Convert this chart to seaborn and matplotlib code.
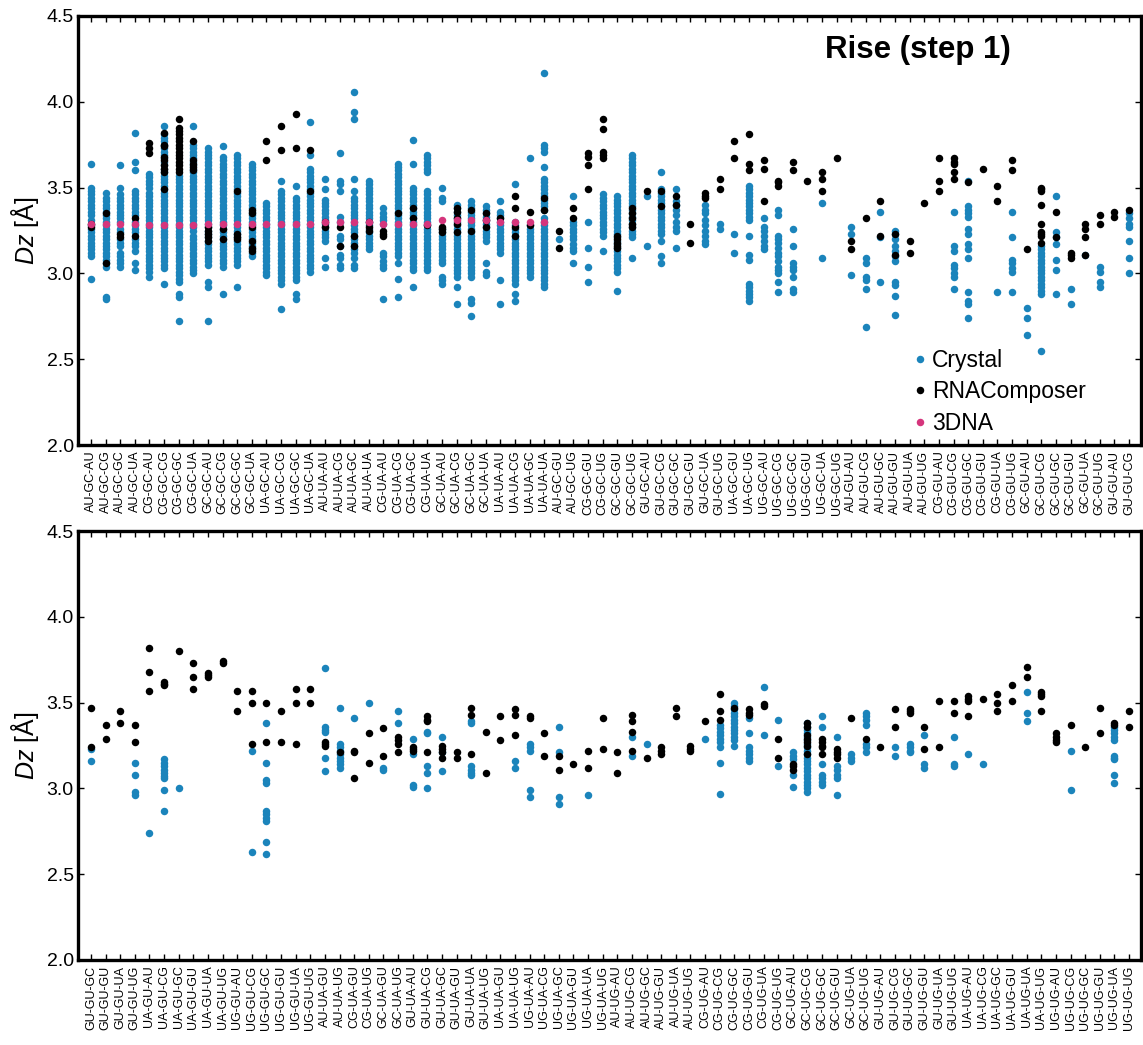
import numpy as np
import pandas as pd
import matplotlib
matplotlib.use("Agg")
import matplotlib.pyplot as plt
import seaborn as sns
from matplotlib.lines import Line2D

# ---------------- categories (tick labels) ----------------
top_categories = [
    "AU-GC-AU", "AU-GC-CG", "AU-GC-GC", "AU-GC-UA",
    "CG-GC-AU", "CG-GC-CG", "CG-GC-GC", "CG-GC-UA",
    "GC-GC-AU", "GC-GC-CG", "GC-GC-GC", "GC-GC-UA",
    "UA-GC-AU", "UA-GC-CG", "UA-GC-GC", "UA-GC-UA",
    "AU-UA-AU", "AU-UA-CG", "AU-UA-GC", "AU-UA-UA",
    "CG-UA-AU", "CG-UA-CG", "CG-UA-GC", "CG-UA-UA",
    "GC-UA-AU", "GC-UA-CG", "GC-UA-GC", "GC-UA-UA",
    "UA-UA-AU", "UA-UA-CG", "UA-UA-GC", "UA-UA-UA",
    "AU-GC-GU", "AU-GC-UG", "CG-GC-GU", "CG-GC-UG", "GC-GC-GU", "GC-GC-UG",
    "GU-GC-AU", "GU-GC-CG", "GU-GC-GC", "GU-GC-GU", "GU-GC-UA", "GU-GC-UG",
    "UA-GC-GU", "UA-GC-UG",
    "UG-GC-AU", "UG-GC-CG", "UG-GC-GC", "UG-GC-GU", "UG-GC-UA", "UG-GC-UG",
    "AU-GU-AU", "AU-GU-CG", "AU-GU-GC", "AU-GU-GU", "AU-GU-UA", "AU-GU-UG",
    "CG-GU-AU", "CG-GU-CG", "CG-GU-GC", "CG-GU-GU", "CG-GU-UA", "CG-GU-UG",
    "GC-GU-AU", "GC-GU-CG", "GC-GU-GC", "GC-GU-GU", "GC-GU-UA", "GC-GU-UG",
    "GU-GU-AU", "GU-GU-CG",
]

bottom_categories = [
    "GU-GU-GC", "GU-GU-GU", "GU-GU-UA", "GU-GU-UG",
    "UA-GU-AU", "UA-GU-CG", "UA-GU-GC", "UA-GU-GU", "UA-GU-UA", "UA-GU-UG",
    "UG-GU-AU", "UG-GU-CG", "UG-GU-GC", "UG-GU-GU", "UG-GU-UA", "UG-GU-UG",
    "AU-UA-GU", "AU-UA-UG", "CG-UA-GU", "CG-UA-UG", "GC-UA-GU", "GC-UA-UG",
    "GU-UA-AU", "GU-UA-CG", "GU-UA-GC", "GU-UA-GU", "GU-UA-UA", "GU-UA-UG",
    "UA-UA-GU", "UA-UA-UG",
    "UG-UA-AU", "UG-UA-CG", "UG-UA-GC", "UG-UA-GU", "UG-UA-UA", "UG-UA-UG",
    "AU-UG-AU", "AU-UG-CG", "AU-UG-GC", "AU-UG-GU", "AU-UG-UA", "AU-UG-UG",
    "CG-UG-AU", "CG-UG-CG", "CG-UG-GC", "CG-UG-GU", "CG-UG-UA", "CG-UG-UG",
    "GC-UG-AU", "GC-UG-CG", "GC-UG-GC", "GC-UG-GU", "GC-UG-UA", "GC-UG-UG",
    "GU-UG-AU", "GU-UG-CG", "GU-UG-GC", "GU-UG-GU", "GU-UG-UA", "GU-UG-UG",
    "UA-UG-AU", "UA-UG-CG", "UA-UG-GC", "UA-UG-GU", "UA-UG-UA", "UA-UG-UG",
    "UG-UG-AU", "UG-UG-CG", "UG-UG-GC", "UG-UG-GU", "UG-UG-UA", "UG-UG-UG",
]

# ---------------- top panel values (Dz, Angstrom) ----------------
top_crystal = [
    [3.64, 3.50, 3.48, 3.46, 3.44, 3.42, 3.40, 3.38, 3.36, 3.34, 3.31, 3.28, 3.26, 3.24, 3.22, 3.20, 3.18, 3.16, 3.14, 3.12, 3.10, 2.97],
    [3.47, 3.44, 3.42, 3.40, 3.38, 3.36, 3.34, 3.32, 3.30, 3.28, 3.26, 3.24, 3.22, 3.20, 3.18, 3.16, 3.14, 3.12, 3.10, 3.08, 3.06, 3.04, 2.86, 2.85],
    [3.63, 3.50, 3.46, 3.44, 3.42, 3.40, 3.38, 3.36, 3.34, 3.32, 3.30, 3.26, 3.24, 3.20, 3.18, 3.16, 3.12, 3.10, 3.08, 3.06, 3.04],
    [3.82, 3.65, 3.60, 3.48, 3.46, 3.44, 3.42, 3.40, 3.38, 3.36, 3.34, 3.30, 3.28, 3.26, 3.24, 3.20, 3.18, 3.16, 3.13, 3.06, 3.02],
    [3.58, 3.56, 3.54, 3.52, 3.50, 3.47, 3.45, 3.43, 3.41, 3.39, 3.37, 3.35, 3.33, 3.31, 3.29, 3.27, 3.25, 3.23, 3.21, 3.19, 3.17, 3.15, 3.13, 3.11, 3.09, 3.07, 3.05, 3.03, 3.01, 2.98],
    [3.86, 3.81, 3.79, 3.77, 3.75, 3.73, 3.71, 3.69, 3.67, 3.65, 3.63, 3.61, 3.59, 3.57, 3.55, 3.53, 3.51, 3.49, 3.47, 3.45, 3.43, 3.41, 3.39, 3.37, 3.35, 3.33, 3.31, 3.29, 3.27, 3.25, 3.23, 3.21, 3.19, 3.17, 3.15, 3.13, 3.11, 3.09, 3.07, 3.05, 3.03, 2.94],
    [3.57, 3.55, 3.53, 3.51, 3.49, 3.47, 3.45, 3.43, 3.41, 3.39, 3.37, 3.35, 3.33, 3.31, 3.29, 3.27, 3.25, 3.23, 3.21, 3.19, 3.17, 3.15, 3.13, 3.11, 3.09, 3.07, 3.05, 3.03, 3.01, 2.99, 2.97, 2.95, 2.88, 2.86, 2.72],
    [3.86, 3.75, 3.73, 3.71, 3.69, 3.67, 3.65, 3.63, 3.61, 3.59, 3.57, 3.55, 3.53, 3.51, 3.49, 3.47, 3.45, 3.43, 3.41, 3.39, 3.37, 3.35, 3.33, 3.31, 3.29, 3.27, 3.25, 3.22, 3.20, 3.18, 3.16, 3.14, 3.12, 3.10, 3.08, 3.06, 3.04, 3.02, 3.00],
    [3.73, 3.71, 3.69, 3.67, 3.65, 3.63, 3.61, 3.59, 3.57, 3.55, 3.53, 3.51, 3.49, 3.47, 3.45, 3.43, 3.41, 3.39, 3.37, 3.35, 3.33, 3.31, 3.29, 3.27, 3.25, 3.23, 3.21, 3.19, 3.17, 3.15, 3.13, 3.11, 3.09, 3.07, 3.05, 2.95, 2.92, 2.72],
    [3.74, 3.68, 3.66, 3.64, 3.62, 3.60, 3.58, 3.56, 3.54, 3.52, 3.50, 3.48, 3.46, 3.44, 3.42, 3.40, 3.38, 3.36, 3.34, 3.32, 3.30, 3.28, 3.26, 3.24, 3.22, 3.20, 3.18, 3.16, 3.14, 3.12, 3.10, 3.08, 3.06, 3.04, 2.88],
    [3.69, 3.67, 3.65, 3.63, 3.61, 3.59, 3.57, 3.55, 3.53, 3.51, 3.49, 3.47, 3.45, 3.43, 3.41, 3.39, 3.37, 3.35, 3.33, 3.31, 3.29, 3.27, 3.25, 3.23, 3.21, 3.19, 3.17, 3.15, 3.13, 3.11, 3.09, 3.07, 3.05, 2.92],
    [3.64, 3.62, 3.60, 3.58, 3.56, 3.54, 3.52, 3.50, 3.48, 3.46, 3.44, 3.42, 3.40, 3.38, 3.36, 3.34, 3.32, 3.30, 3.28, 3.26, 3.24, 3.22, 3.20, 3.18, 3.16, 3.14, 3.12, 3.10],
    [3.41, 3.39, 3.37, 3.35, 3.33, 3.31, 3.29, 3.27, 3.25, 3.23, 3.21, 3.19, 3.17, 3.15, 3.13, 3.11, 3.09, 3.07, 3.05, 3.03, 3.01, 2.99],
    [3.54, 3.48, 3.46, 3.44, 3.42, 3.40, 3.38, 3.36, 3.34, 3.32, 3.30, 3.28, 3.26, 3.24, 3.22, 3.20, 3.18, 3.16, 3.14, 3.12, 3.10, 3.08, 3.06, 3.04, 3.02, 3.00, 2.98, 2.96, 2.94, 2.79],
    [3.51, 3.44, 3.42, 3.40, 3.38, 3.36, 3.34, 3.32, 3.30, 3.28, 3.26, 3.24, 3.22, 3.20, 3.18, 3.16, 3.14, 3.12, 3.10, 3.08, 3.06, 3.04, 3.02, 3.00, 2.98, 2.96, 2.88, 2.85],
    [3.88, 3.69, 3.61, 3.59, 3.57, 3.55, 3.53, 3.51, 3.49, 3.47, 3.45, 3.43, 3.41, 3.39, 3.37, 3.35, 3.33, 3.31, 3.29, 3.27, 3.25, 3.23, 3.21, 3.19, 3.17, 3.15, 3.13, 3.11, 3.09, 3.07, 3.05, 3.03, 3.01],
    [3.55, 3.49, 3.43, 3.41, 3.39, 3.37, 3.35, 3.33, 3.31, 3.29, 3.27, 3.25, 3.23, 3.21, 3.19, 3.09, 3.04],
    [3.70, 3.54, 3.52, 3.48, 3.33, 3.30, 3.22, 3.20, 3.16, 3.11, 3.09, 3.05, 3.03],
    [4.06, 3.94, 3.90, 3.55, 3.48, 3.44, 3.42, 3.40, 3.38, 3.36, 3.34, 3.32, 3.30, 3.28, 3.26, 3.24, 3.22, 3.20, 3.18, 3.16, 3.14, 3.12, 3.09, 3.05, 3.03],
    [3.54, 3.52, 3.50, 3.48, 3.46, 3.44, 3.42, 3.40, 3.38, 3.36, 3.34, 3.32, 3.30, 3.28, 3.26, 3.24, 3.22, 3.20, 3.18, 3.16, 3.14],
    [3.38, 3.35, 3.33, 3.31, 3.29, 3.12, 3.10, 3.07, 3.05, 3.03, 2.85],
    [3.64, 3.62, 3.60, 3.58, 3.56, 3.54, 3.52, 3.50, 3.48, 3.46, 3.44, 3.42, 3.40, 3.38, 3.36, 3.34, 3.32, 3.30, 3.28, 3.26, 3.24, 3.22, 3.20, 3.18, 3.16, 3.14, 3.12, 3.10, 3.06, 2.97, 2.86],
    [3.78, 3.64, 3.50, 3.48, 3.46, 3.44, 3.42, 3.40, 3.38, 3.36, 3.34, 3.32, 3.30, 3.28, 3.26, 3.24, 3.22, 3.20, 3.18, 3.16, 3.14, 3.12, 3.10, 3.08, 3.06, 3.04, 3.02, 2.92],
    [3.69, 3.67, 3.65, 3.63, 3.61, 3.59, 3.48, 3.46, 3.44, 3.42, 3.40, 3.38, 3.36, 3.34, 3.32, 3.30, 3.28, 3.26, 3.24, 3.22, 3.20, 3.18, 3.16, 3.14, 3.12, 3.10, 3.08, 3.06, 3.04, 3.02],
    [3.50, 3.44, 3.42, 3.26, 3.24, 3.22, 3.20, 3.18, 3.16, 3.14, 3.12, 3.10, 3.08, 3.06, 2.98, 2.96, 2.94],
    [3.40, 3.38, 3.36, 3.34, 3.32, 3.30, 3.28, 3.26, 3.24, 3.22, 3.20, 3.18, 3.16, 3.14, 3.12, 3.10, 3.08, 3.06, 3.04, 3.02, 3.00, 2.98, 2.92, 2.82],
    [3.42, 3.40, 3.38, 3.36, 3.34, 3.32, 3.30, 3.28, 3.26, 3.24, 3.22, 3.20, 3.18, 3.16, 3.14, 3.12, 3.10, 3.08, 3.06, 3.04, 3.02, 3.00, 2.98, 2.85, 2.83, 2.75],
    [3.39, 3.37, 3.35, 3.33, 3.31, 3.29, 3.27, 3.25, 3.23, 3.21, 3.19, 3.06, 3.01, 2.99],
    [3.42, 3.36, 3.34, 3.32, 3.30, 3.28, 3.26, 3.24, 3.22, 3.20, 3.18, 3.16, 3.14, 3.12, 2.96, 2.82],
    [3.52, 3.30, 3.28, 3.26, 3.24, 3.22, 3.20, 3.18, 3.16, 3.14, 3.12, 3.10, 3.08, 3.06, 3.04, 3.02, 3.00, 2.98, 2.96, 2.94, 2.88, 2.84],
    [3.67, 3.28, 3.26, 3.24, 3.22, 3.20, 3.18, 3.16, 3.14, 3.12, 3.10, 3.08, 3.06, 3.04, 3.02, 3.00, 2.98],
    [4.17, 3.75, 3.73, 3.71, 3.62, 3.55, 3.53, 3.51, 3.49, 3.47, 3.45, 3.43, 3.41, 3.39, 3.37, 3.32, 3.30, 3.28, 3.26, 3.24, 3.22, 3.20, 3.18, 3.16, 3.14, 3.12, 3.10, 3.08, 3.06, 3.04, 3.02, 3.00, 2.98, 2.96, 2.94, 2.92],
    [3.20],
    [3.45, 3.30, 3.28, 3.26, 3.24, 3.22, 3.20, 3.17, 3.15, 3.13, 3.06],
    [3.30, 3.15, 3.04, 2.95],
    [3.46, 3.44, 3.42, 3.40, 3.38, 3.36, 3.34, 3.32, 3.30, 3.28, 3.26, 3.24, 3.22, 3.13],
    [3.45, 3.43, 3.41, 3.39, 3.37, 3.35, 3.33, 3.31, 3.29, 3.27, 3.25, 3.23, 3.21, 3.19, 3.17, 3.15, 3.13, 3.11, 3.09, 3.07, 3.05, 3.03, 3.01, 2.90],
    [3.69, 3.67, 3.65, 3.63, 3.61, 3.59, 3.57, 3.55, 3.53, 3.51, 3.49, 3.47, 3.45, 3.43, 3.41, 3.39, 3.37, 3.35, 3.33, 3.31, 3.29, 3.27, 3.25, 3.23, 3.21, 3.09],
    [3.45, 3.16],
    [3.59, 3.49, 3.47, 3.45, 3.43, 3.41, 3.39, 3.37, 3.35, 3.33, 3.31, 3.29, 3.27, 3.25, 3.23, 3.19, 3.10, 3.06],
    [3.49, 3.42, 3.40, 3.37, 3.34, 3.30, 3.27, 3.25, 3.15],
    [],
    [3.40, 3.37, 3.35, 3.31, 3.28, 3.25, 3.22, 3.19, 3.17],
    [3.29, 3.26],
    [3.23, 3.12],
    [3.51, 3.49, 3.47, 3.45, 3.43, 3.41, 3.39, 3.37, 3.35, 3.33, 3.31, 3.22, 3.11, 3.08, 2.94, 2.92, 2.90, 2.88, 2.86, 2.84],
    [3.32, 3.27, 3.25, 3.22, 3.19, 3.16, 3.14],
    [3.37, 3.34, 3.22, 3.20, 3.18, 3.15, 3.12, 3.10, 3.07, 3.04, 3.02, 3.00, 2.95, 2.89],
    [3.26, 3.16, 3.06, 3.04, 3.02, 2.98, 2.91, 2.89],
    [],
    [3.41, 3.09],
    [],
    [3.27, 3.23, 2.99],
    [3.09, 3.06, 2.98, 2.96, 2.91, 2.69],
    [3.36, 3.21, 2.95],
    [3.25, 3.23, 3.20, 3.16, 3.13, 3.10, 3.07, 2.95, 2.93, 2.87, 2.76],
    [],
    [],
    [],
    [3.36, 3.16, 3.13, 3.05, 3.03, 3.00, 2.98, 2.91],
    [3.54, 3.39, 3.37, 3.35, 3.33, 3.26, 3.23, 3.17, 3.14, 3.09, 2.89, 2.84, 2.82, 2.74],
    [],
    [2.89],
    [3.36, 3.21, 3.08, 3.06, 3.03, 3.01, 2.89],
    [2.80, 2.74, 2.64],
    [3.16, 3.14, 3.12, 3.10, 3.08, 3.06, 3.04, 3.02, 3.00, 2.98, 2.96, 2.94, 2.92, 2.90, 2.88, 2.55],
    [3.45, 3.24, 3.21, 3.17, 3.08, 3.02, 2.88],
    [2.91, 2.82],
    [3.11],
    [3.04, 3.01, 2.95, 2.92],
    [],
    [3.35, 3.32, 3.29, 3.27, 3.19, 3.09, 3.00],
]

top_rnacomposer = [
    [3.29, 3.27], [3.35, 3.06], [3.23, 3.21], [3.32, 3.22],
    [3.76, 3.73, 3.70],
    [3.82, 3.75, 3.74, 3.68, 3.66, 3.63, 3.61, 3.59, 3.49],
    [3.90, 3.85, 3.83, 3.81, 3.79, 3.77, 3.75, 3.73, 3.71, 3.69, 3.67, 3.65, 3.63, 3.61, 3.59],
    [3.77, 3.66, 3.64, 3.62, 3.60],
    [3.27, 3.25, 3.23, 3.21, 3.19], [3.26, 3.20], [3.48, 3.23, 3.21, 3.20],
    [3.37, 3.35, 3.27, 3.19, 3.15, 3.13],
    [3.77, 3.66], [3.86, 3.72], [3.93, 3.73], [3.72, 3.48],
    [3.30, 3.27], [3.27, 3.16], [3.22, 3.16], [3.30, 3.27, 3.25],
    [3.25, 3.23, 3.22], [3.35], [3.38, 3.32], [3.28],
    [3.27, 3.26, 3.24], [3.38, 3.36, 3.32, 3.29, 3.24], [3.37, 3.25], [3.35, 3.31, 3.27],
    [3.32], [3.45, 3.38, 3.27, 3.22], [3.36, 3.28], [3.44, 3.37],
    [3.25, 3.15], [3.38, 3.32], [3.70, 3.68, 3.63, 3.49], [3.90, 3.84, 3.71, 3.69, 3.67],
    [3.22, 3.20, 3.18, 3.16, 3.15], [3.38, 3.35, 3.32, 3.29, 3.27],
    [3.48], [3.48, 3.39], [3.45, 3.40], [3.29, 3.18], [3.47, 3.45, 3.44], [3.55, 3.49],
    [3.77, 3.67], [3.81, 3.64, 3.60],
    [3.66, 3.61, 3.42], [3.54, 3.53, 3.51], [3.65, 3.60], [3.54], [3.59, 3.55, 3.48], [3.67],
    [3.19, 3.14], [3.32], [3.42, 3.22], [3.23, 3.11], [3.19, 3.12], [3.41],
    [3.67, 3.54, 3.48], [3.67, 3.65, 3.64, 3.59, 3.55], [3.53], [3.61], [3.51, 3.42], [3.66, 3.60],
    [3.14], [3.50, 3.49, 3.48, 3.40, 3.29, 3.24, 3.23, 3.22, 3.18], [3.36, 3.21],
    [3.12, 3.11, 3.09], [3.29, 3.26, 3.21, 3.11], [3.34, 3.29],
    [3.36, 3.33], [3.37],
]

# 3DNA reference values exist only for the first 32 (Watson-Crick) categories
top_3dna = [
    3.29, 3.29, 3.29, 3.29, 3.28, 3.28, 3.28, 3.28,
    3.29, 3.29, 3.29, 3.29, 3.29, 3.29, 3.29, 3.29,
    3.30, 3.30, 3.30, 3.30, 3.29, 3.29, 3.29, 3.29,
    3.31, 3.31, 3.31, 3.31, 3.30, 3.30, 3.30, 3.30,
]

# ---------------- bottom panel values ----------------
bottom_crystal = [
    [3.23, 3.16], [], [], [3.15, 3.08, 2.98, 2.96],
    [2.74], [3.17, 3.15, 3.13, 3.11, 3.09, 3.07, 3.06, 2.99, 2.87], [3.00], [], [], [],
    [], [3.22, 2.63], [3.38, 3.15, 3.05, 3.03, 2.87, 2.85, 2.83, 2.81, 2.69, 2.62], [], [], [],
    [3.70, 3.36, 3.34, 3.33, 3.18, 3.10], [3.47, 3.26, 3.24, 3.22, 3.20, 3.18, 3.16, 3.14, 3.12],
    [3.41], [3.50], [3.12, 3.11], [3.45, 3.38],
    [3.29, 3.20, 3.02, 3.01], [3.33, 3.32, 3.13, 3.09, 3.00], [3.30, 3.21, 3.10], [],
    [3.39, 3.38, 3.13, 3.11, 3.09, 3.08], [],
    [], [3.16, 3.12],
    [3.26, 3.24, 3.22, 2.99, 2.95], [], [3.36, 3.21, 2.95, 2.91], [], [2.96], [],
    [], [3.30, 3.19], [3.26], [], [], [],
    [3.29], [3.37, 3.35, 3.33, 3.31, 3.29, 3.27, 3.24, 3.15, 2.97],
    [3.50, 3.48, 3.46, 3.44, 3.42, 3.40, 3.38, 3.36, 3.34, 3.32, 3.30, 3.28, 3.25],
    [3.41, 3.32, 3.24, 3.22, 3.20, 3.18, 3.16], [3.59, 3.31], [3.40, 3.13],
    [3.21, 3.19, 3.17, 3.08, 3.01],
    [3.38, 3.36, 3.34, 3.32, 3.30, 3.28, 3.26, 3.24, 3.22, 3.20, 3.18, 3.16, 3.14, 3.12, 3.10, 3.08, 3.06, 3.04, 3.02, 3.00, 2.98],
    [3.42, 3.36, 3.14, 3.08, 3.06, 3.04, 3.02],
    [3.30, 3.13, 3.11, 3.08, 3.06, 2.96], [3.20, 3.18, 3.16],
    [3.44, 3.42, 3.40, 3.37, 3.26, 3.24, 3.21],
    [], [3.24, 3.19], [3.26, 3.24, 3.22, 3.21], [3.31, 3.14, 3.12], [], [3.30, 3.14, 3.13],
    [3.20], [3.14], [], [], [3.56, 3.44, 3.39], [],
    [], [3.22, 2.99], [], [], [3.36, 3.34, 3.32, 3.30, 3.28, 3.19, 3.18, 3.17, 3.08, 3.03], [],
]

bottom_rnacomposer = [
    [3.47, 3.24], [3.37, 3.29], [3.45, 3.38], [3.37, 3.27],
    [3.82, 3.68, 3.57], [3.62, 3.61, 3.60], [3.80], [3.73, 3.65, 3.58], [3.67, 3.66, 3.65], [3.74, 3.73],
    [3.57, 3.45], [3.57, 3.50, 3.26], [3.50, 3.27], [3.45, 3.27], [3.58, 3.50, 3.26], [3.58, 3.50],
    [3.27, 3.26, 3.25], [3.21], [3.22, 3.21, 3.06], [3.32, 3.15], [3.35, 3.19], [3.30, 3.28, 3.26, 3.21],
    [3.24, 3.23, 3.22], [3.42, 3.40, 3.39, 3.21], [3.25, 3.23, 3.21, 3.18], [3.21, 3.18],
    [3.47, 3.43, 3.20], [3.33, 3.09],
    [3.42, 3.28], [3.46, 3.43, 3.31],
    [3.42, 3.41], [3.32, 3.19], [3.19, 3.11], [3.14], [3.22, 3.12], [3.41, 3.23],
    [3.21, 3.09], [3.43, 3.39, 3.33, 3.22], [3.18], [3.24, 3.22, 3.20], [3.47, 3.42], [3.25, 3.23, 3.22],
    [3.39], [3.55, 3.45, 3.40], [3.47], [3.46, 3.44, 3.43], [3.49, 3.48], [3.29, 3.18],
    [3.14, 3.13, 3.11], [3.38, 3.36, 3.31, 3.29, 3.27, 3.25, 3.20], [3.29, 3.27, 3.25, 3.24, 3.20],
    [3.23, 3.21, 3.20, 3.18], [3.41], [3.29],
    [3.24], [3.46, 3.36], [3.46, 3.45, 3.44], [3.36, 3.23], [3.51, 3.24], [3.51, 3.44],
    [3.54, 3.52, 3.51, 3.42], [3.52], [3.55, 3.50, 3.45], [3.60, 3.51], [3.71, 3.65], [3.56, 3.55, 3.54, 3.45],
    [3.32, 3.30, 3.28, 3.27], [3.37], [3.24], [3.47, 3.32], [3.38, 3.37], [3.45, 3.36],
]

sources = ["Crystal", "RNAComposer", "3DNA"]
colors = {"Crystal": "#1b84bb", "RNAComposer": "#000000", "3DNA": "#d5357c"}


def long_frame(categories, series):
    rows = []
    for src, values in series:
        for cat, vals in zip(categories, values):
            for v in vals:
                rows.append((cat, v, src))
    return pd.DataFrame(rows, columns=["step", "Dz", "source"])


top_df = long_frame(top_categories, [
    ("Crystal", top_crystal),
    ("RNAComposer", top_rnacomposer),
    ("3DNA", [[v] for v in top_3dna]),
])
bottom_df = long_frame(bottom_categories, [
    ("Crystal", bottom_crystal),
    ("RNAComposer", bottom_rnacomposer),
])

sns.set_style("ticks")
plt.rcParams["font.family"] = ["Liberation Sans", "DejaVu Sans"]
plt.rcParams["mathtext.fontset"] = "custom"
plt.rcParams["mathtext.rm"] = "Liberation Sans"
plt.rcParams["mathtext.it"] = "Liberation Sans:italic"
plt.rcParams["text.color"] = "black"
plt.rcParams["axes.labelcolor"] = "black"
plt.rcParams["xtick.color"] = "black"
plt.rcParams["ytick.color"] = "black"

W, H = 1143, 1045
fig = plt.figure(figsize=(W / 100, H / 100), dpi=100)
ax_top = fig.add_axes([78 / W, 1 - 445 / H, 1063 / W, 429 / H])
ax_bot = fig.add_axes([78 / W, 1 - 960 / H, 1063 / W, 429 / H])

for ax, df, cats in [(ax_top, top_df, top_categories), (ax_bot, bottom_df, bottom_categories)]:
    for src in sources:
        sub = df[df["source"] == src]
        if sub.empty:
            continue
        sns.stripplot(data=sub, x="step", y="Dz", order=cats, jitter=False,
                      color=colors[src], size=5.4, linewidth=0, ax=ax, zorder=3)
    ax.set_xlim(-0.89, 71.82)
    ax.set_ylim(2.0, 4.5)
    ax.set_yticks([2.0, 2.5, 3.0, 3.5, 4.0, 4.5])
    ax.set_yticklabels(["2.0", "2.5", "3.0", "3.5", "4.0", "4.5"], fontsize=14)
    ax.set_xticks(range(len(cats)))
    ax.set_xticklabels(cats, rotation=90, fontsize=9)
    ax.set_xlabel("")
    ax.set_ylabel(r"$Dz$ [Å]", fontsize=18, labelpad=4, color="black")
    ax.tick_params(axis="both", direction="in", top=True, right=True, length=4, width=1, pad=3,
                   colors="black")
    ax.tick_params(axis="x", pad=4)
    for sp in ax.spines.values():
        sp.set_linewidth(2.4)
        sp.set_color("black")

ax_top.text(0.79, 0.92, "Rise (step 1)", transform=ax_top.transAxes, ha="center", va="center",
            fontsize=22.5, fontweight="bold", color="black")

handles = [Line2D([], [], marker="o", linestyle="", markersize=5.4, markerfacecolor=colors[s],
                  markeredgewidth=0) for s in sources]
leg = ax_top.legend(handles, sources, loc="lower left", bbox_to_anchor=(0.768, -0.008), frameon=False,
                    fontsize=16.5, handletextpad=0.05, handlelength=1.0, labelspacing=0.36,
                    borderaxespad=0.2)
for t in leg.get_texts():
    t.set_color("black")

fig.savefig("out.png", dpi=100)
